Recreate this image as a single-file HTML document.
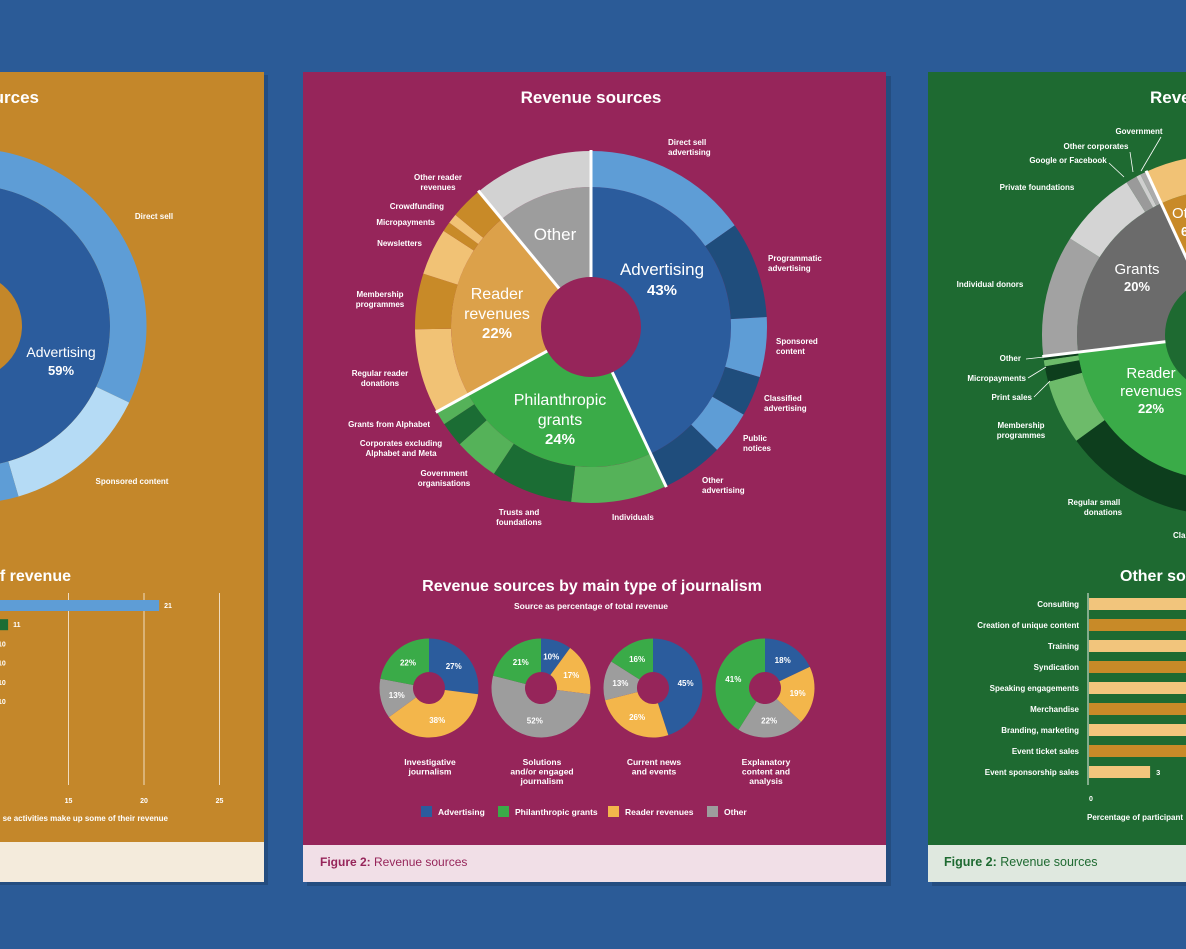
<!DOCTYPE html>
<html><head><meta charset="utf-8"><style>
html,body{margin:0;padding:0;background:#2b5b97;}
svg{display:block;font-family:"Liberation Sans",sans-serif;}
text{fill:#fff;}
.b{font-weight:bold;}
</style></head><body>
<svg id="s" width="1186" height="949" viewBox="0 0 1186 949" xmlns="http://www.w3.org/2000/svg">
<rect x="0" y="0" width="1186" height="949" fill="#2b5b97"/>
<!-- left panel -->
<g>
<rect x="-5" y="75" width="273" height="810" fill="#1d3f6a" opacity="0.5"/>
<rect x="-5" y="72" width="269" height="810" fill="#c4872a"/>
<rect x="-5" y="842" width="269" height="40" fill="#f4ebdc"/>
<text x="39" y="103" text-anchor="end" class="b" font-size="17">urces</text>
<g id="leftDonut"></g>
<text x="61" y="357" text-anchor="middle" font-size="14">Advertising</text>
<text x="61" y="375" text-anchor="middle" class="b" font-size="13">59%</text>
<text x="154" y="219" text-anchor="middle" class="b" font-size="8">Direct sell</text>
<text x="132" y="484" text-anchor="middle" class="b" font-size="8">Sponsored content</text>
<text x="71" y="581" text-anchor="end" class="b" font-size="16">f revenue</text>
<g id="leftBars"></g>
<text x="168" y="821" text-anchor="end" class="b" font-size="8">se activities make up some of their revenue</text>
</g>
<!-- middle panel -->
<g>
<rect x="307" y="76" width="584" height="810" fill="#1d3f6a" opacity="0.5"/>
<rect x="303" y="72" width="583" height="810" fill="#96255a"/>
<rect x="303" y="845" width="583" height="37" fill="#f1dfe7"/>
<text x="320" y="866" font-size="12" style="fill:#96255a"><tspan font-weight="bold">Figure 2:</tspan> Revenue sources</text>
<text x="591" y="103" text-anchor="middle" class="b" font-size="17">Revenue sources</text>
<g id="mainDonut"></g>
<text x="662" y="275" text-anchor="middle" font-size="17">Advertising</text>
<text x="662" y="295" text-anchor="middle" class="b" font-size="15">43%</text>
<text x="555" y="240" text-anchor="middle" font-size="17">Other</text>
<text x="497" y="299" text-anchor="middle" font-size="16">Reader</text>
<text x="497" y="319" text-anchor="middle" font-size="16">revenues</text>
<text x="497" y="338" text-anchor="middle" class="b" font-size="15">22%</text>
<text x="560" y="405" text-anchor="middle" font-size="16">Philanthropic</text>
<text x="560" y="425" text-anchor="middle" font-size="16">grants</text>
<text x="560" y="444" text-anchor="middle" class="b" font-size="15">24%</text>
<g class="b" font-size="8">
<text x="668" y="145">Direct sell</text><text x="668" y="155">advertising</text>
<text x="768" y="261">Programmatic</text><text x="768" y="271">advertising</text>
<text x="776" y="344">Sponsored</text><text x="776" y="354">content</text>
<text x="764" y="401">Classified</text><text x="764" y="411">advertising</text>
<text x="743" y="441">Public</text><text x="743" y="451">notices</text>
<text x="702" y="483">Other</text><text x="702" y="493">advertising</text>
<text x="612" y="520">Individuals</text>
<text x="519" y="515" text-anchor="middle">Trusts and</text><text x="519" y="525" text-anchor="middle">foundations</text>
<text x="444" y="476" text-anchor="middle">Government</text><text x="444" y="486" text-anchor="middle">organisations</text>
<text x="401" y="446" text-anchor="middle">Corporates excluding</text><text x="401" y="456" text-anchor="middle">Alphabet and Meta</text>
<text x="430" y="427" text-anchor="end">Grants from Alphabet</text>
<text x="380" y="376" text-anchor="middle">Regular reader</text><text x="380" y="386" text-anchor="middle">donations</text>
<text x="380" y="297" text-anchor="middle">Membership</text><text x="380" y="307" text-anchor="middle">programmes</text>
<text x="422" y="246" text-anchor="end">Newsletters</text>
<text x="435" y="225" text-anchor="end">Micropayments</text>
<text x="444" y="209" text-anchor="end">Crowdfunding</text>
<text x="438" y="180" text-anchor="middle">Other reader</text><text x="438" y="190" text-anchor="middle">revenues</text>
</g>
<text x="592" y="591" text-anchor="middle" class="b" font-size="16">Revenue sources by main type of journalism</text>
<text x="591" y="609" text-anchor="middle" class="b" font-size="8.5">Source as percentage of total revenue</text>
<g id="smallDonuts"></g>
<g id="legend"></g>
</g>
<!-- right panel -->
<g>
<rect x="932" y="76" width="260" height="810" fill="#1d3f6a" opacity="0.5"/>
<rect x="928" y="72" width="262" height="810" fill="#1e6a31"/>
<rect x="928" y="845" width="262" height="37" fill="#dfe8df"/>
<text x="944" y="866" font-size="12.5" style="fill:#1e6a31"><tspan font-weight="bold">Figure 2:</tspan> Revenue sources</text>
<text x="1150" y="103" class="b" font-size="17">Reve</text>
<g id="rightDonut"></g>
<text x="1137" y="274" text-anchor="middle" font-size="15">Grants</text>
<text x="1137" y="291" text-anchor="middle" class="b" font-size="13">20%</text>
<text x="1151" y="378" text-anchor="middle" font-size="15">Reader</text>
<text x="1151" y="396" text-anchor="middle" font-size="15">revenues</text>
<text x="1151" y="413" text-anchor="middle" class="b" font-size="13">22%</text>
<text x="1172" y="218" font-size="15">Ot</text>
<text x="1181" y="236" class="b" font-size="13">6</text>
<g class="b" font-size="8">
<text x="1139" y="134" text-anchor="middle">Government</text>
<text x="1096" y="149" text-anchor="middle">Other corporates</text>
<text x="1068" y="163" text-anchor="middle">Google or Facebook</text>
<text x="1037" y="190" text-anchor="middle">Private foundations</text>
<text x="990" y="287" text-anchor="middle">Individual donors</text>
<text x="1021" y="361" text-anchor="end">Other</text>
<text x="1026" y="381" text-anchor="end">Micropayments</text>
<text x="1032" y="400" text-anchor="end">Print sales</text>
<text x="1021" y="428" text-anchor="middle">Membership</text><text x="1021" y="438" text-anchor="middle">programmes</text>
<text x="1094" y="505" text-anchor="middle">Regular small</text><text x="1103" y="515" text-anchor="middle">donations</text>
<text x="1173" y="538">Cla</text>
</g>
<g stroke="#fff" stroke-width="0.8">
<line x1="1161" y1="137" x2="1141" y2="171"/><line x1="1130" y1="152" x2="1133" y2="172"/><line x1="1109" y1="163" x2="1124" y2="177"/>
<line x1="1026" y1="359" x2="1044" y2="357"/><line x1="1028" y1="378" x2="1046" y2="367"/><line x1="1034" y1="397" x2="1050" y2="381"/>
</g>
<text x="1120" y="581" class="b" font-size="16">Other so</text>
<g id="rightBars"></g>
<text x="1089" y="801" class="b" font-size="7">0</text>
<text x="1087" y="820" class="b" font-size="8">Percentage of participant</text>
</g>
</svg>
<script>
// ---- data ----
const mainCats = ['Advertising','Philanthropic grants','Reader revenues','Other'];
const mainVals = [43,24,22,11];
const outerAdv = [15.2,8.9,5.5,3.7,4.0,5.7];
const outerPhil = [8.8,7.5,4.1,2.3,1.3];
const outerReader = [7.8,5.1,4.3,0.9,0.9,3.0];
const outerOther = [11];
const smallCats = ['Investigative journalism','Solutions and/or engaged journalism','Current news and events','Explanatory content and analysis'];
const smallAdv = [27,10,45,18];
const smallReader = [38,17,26,19];
const smallOther = [13,52,13,22];
const smallPhil = [22,21,16,41];
const leftVals = [59];
const leftOuter = [32.1,13.4,13.5];
const leftBarVals = [21,11,10,10,10,10];
const leftTicks = [15,20,25];
const rightCats = ['Reader revenues','Grants','Other','Advertising'];
const rightVals = [22,20,6,52];
const rightReaderOuter = [13.9,5.8,1.4,0.55,0.35];
const rightGrantOuter = [10.9,7.1,1.0,0.4,0.6];
const rightBarCats = ['Consulting','Creation of unique content','Training','Syndication','Speaking engagements','Merchandise','Branding, marketing','Event ticket sales','Event sponsorship sales'];
const rightBarVals = [22,20,19,18,16,14,12,10,3];

const NS='http://www.w3.org/2000/svg';
function arcPath(cx,cy,r0,r1,a0,a1){
  const t=a=>(a-90)*Math.PI/180;
  const p=(r,a)=>[cx+r*Math.cos(t(a)),cy+r*Math.sin(t(a))];
  const lg=(a1-a0)>180?1:0;
  const [x1,y1]=p(r1,a0),[x2,y2]=p(r1,a1),[x3,y3]=p(r0,a1),[x4,y4]=p(r0,a0);
  return `M${x1},${y1}A${r1},${r1} 0 ${lg} 1 ${x2},${y2}L${x3},${y3}A${r0},${r0} 0 ${lg} 0 ${x4},${y4}Z`;
}
function mk(tag,attrs,parent){const e=document.createElementNS(NS,tag);for(const k in attrs)e.setAttribute(k,attrs[k]);parent.appendChild(e);return e;}
const ang=v=>v*3.6;

// ---- main donut ----
const gMain=document.getElementById('mainDonut');
const MX=591,MY=327;
const innerCols=['#2b5c9d','#3aab48','#dca14a','#9d9d9d'];
const outerSets=[outerAdv,outerPhil,outerReader,outerOther];
const outerCols=[['#5e9dd6','#1f4d7c'],['#55b259','#1b6d34'],['#f1c275','#c88a28'],['#d2d2d2','#d2d2d2']];
let acc=0;
mainVals.forEach((v,i)=>{
  const p=mk('path',{d:arcPath(MX,MY,50,140,ang(acc),ang(acc+v)),fill:innerCols[i]},gMain);
  
  
  acc+=v;
});
acc=0;
outerSets.forEach((set,i)=>{
  set.forEach((v,j)=>{
    const p=mk('path',{d:arcPath(MX,MY,140,176,ang(acc),ang(acc+v)),fill:outerCols[i][j%2]},gMain);
    
    
    acc+=v;
  });
});
acc=0;
mainVals.forEach((v)=>{
  const a=(acc-90)*3.6*Math.PI/180; const aa=(ang(acc)-90)*Math.PI/180;
  const l=mk('line',{x1:MX+50*Math.cos(aa),y1:MY+50*Math.sin(aa),x2:MX+177*Math.cos(aa),y2:MY+177*Math.sin(aa),stroke:'#fff','stroke-width':3},gMain);
  
  
  acc+=v;
});

// ---- small donuts ----
const gS=document.getElementById('smallDonuts');
const sCols=['#2b5c9d','#f3b64b','#9d9d9d','#3aab48'];
const sets=[smallAdv,smallReader,smallOther,smallPhil];
smallCats.forEach((c,k)=>{
  const cx=429+k*112,cy=688;
  let a0=0;
  sets.forEach((s,i)=>{
    const v=s[k];
    const p=mk('path',{d:arcPath(cx,cy,16,49.5,ang(a0),ang(a0+v)),fill:sCols[i]},gS);
    
    
    const mid=(ang(a0+v/2)-90)*Math.PI/180;
    const t=mk('text',{x:cx+33*Math.cos(mid),y:cy+33*Math.sin(mid)+3,'text-anchor':'middle','font-size':8,'font-weight':'bold'},gS);
    
    
    t.textContent=v+'%';
    a0+=v;
  });
  const words={0:['Investigative','journalism'],1:['Solutions','and/or engaged','journalism'],2:['Current news','and events'],3:['Explanatory','content and','analysis']}[k];
  words.forEach((w,j)=>{
    const t=mk('text',{x:cx+1,y:765+j*9.5,'text-anchor':'middle','font-size':8.5,'font-weight':'bold'},gS);
    
    
    t.textContent=w;
  });
});
// legend
const gL=document.getElementById('legend');
const legItems=[['Advertising','#2b5c9d',421],['Philanthropic grants','#3aab48',498],['Reader revenues','#f3b64b',608],['Other','#9d9d9d',707]];
legItems.forEach(it=>{
  const r=mk('rect',{x:it[2],y:806,width:11,height:11,fill:it[1]},gL);
  
  
  const t=mk('text',{x:it[2]+17,y:815,'font-size':8.5,'font-weight':'bold'},gL);
  
  
  t.textContent=it[0];
});

// ---- left donut ----
const gLD=document.getElementById('leftDonut');
const LX=-31,LY=326;
let p=mk('path',{d:arcPath(LX,LY,53,141,0,ang(leftVals[0])),fill:'#2b5c9d'},gLD);


const lCols=['#5e9dd6','#b5dbf5','#5e9dd6'];
acc=0;
leftOuter.forEach((v,i)=>{
  const q=mk('path',{d:arcPath(LX,LY,141,177.5,ang(acc),ang(acc+v)),fill:lCols[i]},gLD);
  
  
  acc+=v;
});

// ---- left bars ----
const gLB=document.getElementById('leftBars');
const lx=v=>-158+v*15.1;
leftTicks.forEach(t=>{
  const l=mk('line',{x1:lx(t),y1:593,x2:lx(t),y2:785,stroke:'#f0dcc0','stroke-width':1},gLB);
  
  
  const tx=mk('text',{x:lx(t),y:803,'text-anchor':'middle','font-size':7,'font-weight':'bold'},gLB);
  
  
  tx.textContent=t;
});
const lbCols=['#5e9dd6','#1b6d34','#2b5c9d','#3aab48','#f3b64b','#9d9d9d'];
leftBarVals.forEach((v,i)=>{
  const y=600+i*19.2;
  const b=mk('rect',{x:-160,y:y,width:lx(v)+160,height:11,fill:lbCols[i]},gLB);
  
  
  const t=mk('text',{x:lx(v)+5,y:y+8,'font-size':7,'font-weight':'bold'},gLB);
  
  
  t.textContent=v;
});

// ---- right donut ----
const gR=document.getElementById('rightDonut');
const RX=1222,RY=335,START=184;
const rInner=['#3aab48','#6b6b6b','#c88a28','#2b5c9d'];
acc=0;
rightVals.forEach((v,i)=>{
  const q=mk('path',{d:arcPath(RX,RY,57,145,START+ang(acc),START+ang(acc+v)),fill:rInner[i]},gR);
  
  
  acc+=v;
});
const rOuterSets=[rightReaderOuter,rightGrantOuter,[rightVals[2]],[rightVals[3]]];
const rOuterCols=[['#0d3e1d','#6dbb6a'],['#a2a2a2','#d4d4d4','#9a9a9a','#cfcfcf','#ababab'],['#f1c275'],['#5e9dd6']];
acc=0;
rOuterSets.forEach((set,i)=>{
  set.forEach((v,j)=>{
    const c=rOuterCols[i][i===1?j:j%rOuterCols[i].length];
    const q=mk('path',{d:arcPath(RX,RY,145,180,START+ang(acc),START+ang(acc+v)),fill:c},gR);
    
    
    acc+=v;
  });
});
acc=0;
rightVals.forEach(v=>{
  const aa=(START+ang(acc)-90)*Math.PI/180;
  const l=mk('line',{x1:RX+57*Math.cos(aa),y1:RY+57*Math.sin(aa),x2:RX+181*Math.cos(aa),y2:RY+181*Math.sin(aa),stroke:'#fff','stroke-width':3},gR);
  
  
  acc+=v;
});

// ---- right bars ----
const gRB=document.getElementById('rightBars');
const rx=v=>1088+v*20.7;
const ax=mk('line',{x1:1088,y1:593,x2:1088,y2:785,stroke:'#e8eee8','stroke-width':1},gRB);


rightBarCats.forEach((c,i)=>{
  const y=598+i*21;
  const b=mk('rect',{x:1089,y:y,width:rx(rightBarVals[i])-1089,height:12,fill:i%2?'#c88a28':'#f2c57c'},gRB);
  
  
  const t=mk('text',{x:1079,y:y+9,'text-anchor':'end','font-size':8,'font-weight':'bold'},gRB);
  
  
  t.textContent=c;
  const vl=mk('text',{x:rx(rightBarVals[i])+6,y:y+9,'font-size':7.5,'font-weight':'bold'},gRB);
  
  
  vl.textContent=rightBarVals[i];
});
</script>
</body></html>
